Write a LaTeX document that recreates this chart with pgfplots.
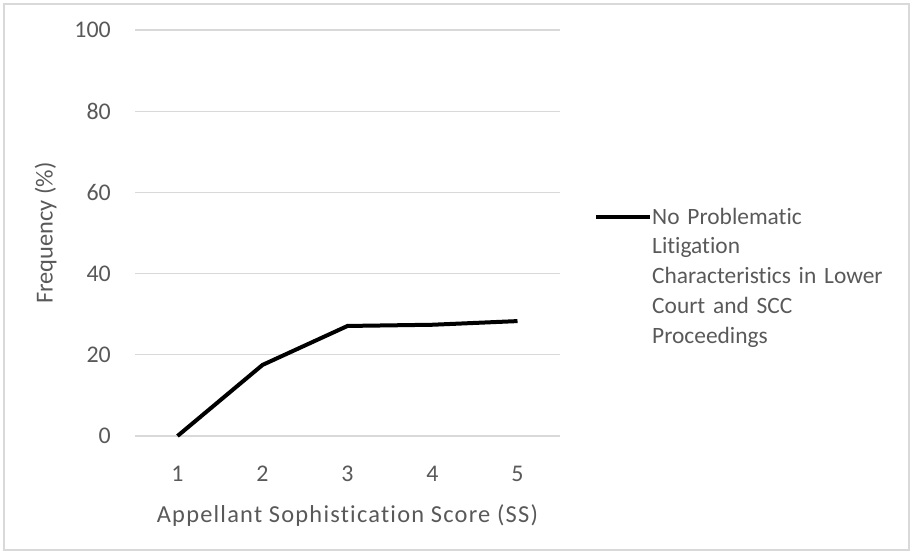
\documentclass[border=0pt]{standalone}
\usepackage{fontspec}
\setmainfont{Carlito}[Ligatures=NoCommon]
\usepackage{pgfplots}
\pgfplotsset{compat=1.18}
\definecolor{txtgray}{RGB}{89,89,89}
\definecolor{gridgray}{RGB}{217,217,217}
\begin{document}
\begin{tikzpicture}[x=1bp,y=1bp]
\path[use as bounding box] (0,0) rectangle (913,554);
\draw[gridgray, line width=1.2bp] (4,4) rectangle (909,550);
\begin{axis}[
  at={(135bp,118bp)}, anchor=south west,
  scale only axis, width=425bp, height=406bp,
  xmin=0.5, xmax=5.5, ymin=0, ymax=100,
  xtick={1,2,3,4,5}, ytick={0,20,40,60,80,100},
  axis line style={draw=none},
  major tick length=0pt,
  ymajorgrids, grid style={gridgray, line width=1.2bp},
  /pgf/number format/assume math mode=true,
  tick label style={font=\fontsize{24}{28}\selectfont, text=txtgray},
  yticklabel style={anchor=east, inner sep=0pt, xshift=-24bp},
  xticklabel style={anchor=center, inner sep=0pt, yshift=-38bp},
  xlabel={Appellant Sophistication Score (SS)},
  ylabel={Frequency (\%)},
  label style={font=\fontsize{24.5}{28}\selectfont, text=txtgray},
  xlabel style={at={(axis description cs:0.5,-0.197)}, anchor=center, font=\fontsize{24.5}{28}\selectfont\addfontfeature{LetterSpace=5}},
  ylabel style={at={(axis description cs:-0.21,0.5)}, anchor=center},
  legend style={draw=none, fill=none, at={(axis description cs:1.080,0.562)}, anchor=north west,
    inner sep=0pt, font=\fontsize{23.5}{29.8}\selectfont, text=txtgray,
    nodes={text width=260bp, align=left, inner sep=0pt}},
  legend image code/.code={\draw[#1] (0bp,0bp) -- (54bp,0bp);},
  clip=false,
]
\addplot[black, line width=4bp] coordinates {(1,0) (2,17.5) (3,27.1) (4,27.4) (5,28.3)};
\addlegendentry{No Problematic\\Litigation\\Characteristics in Lower\\Court and SCC\\Proceedings}
\end{axis}
\end{tikzpicture}
\end{document}
